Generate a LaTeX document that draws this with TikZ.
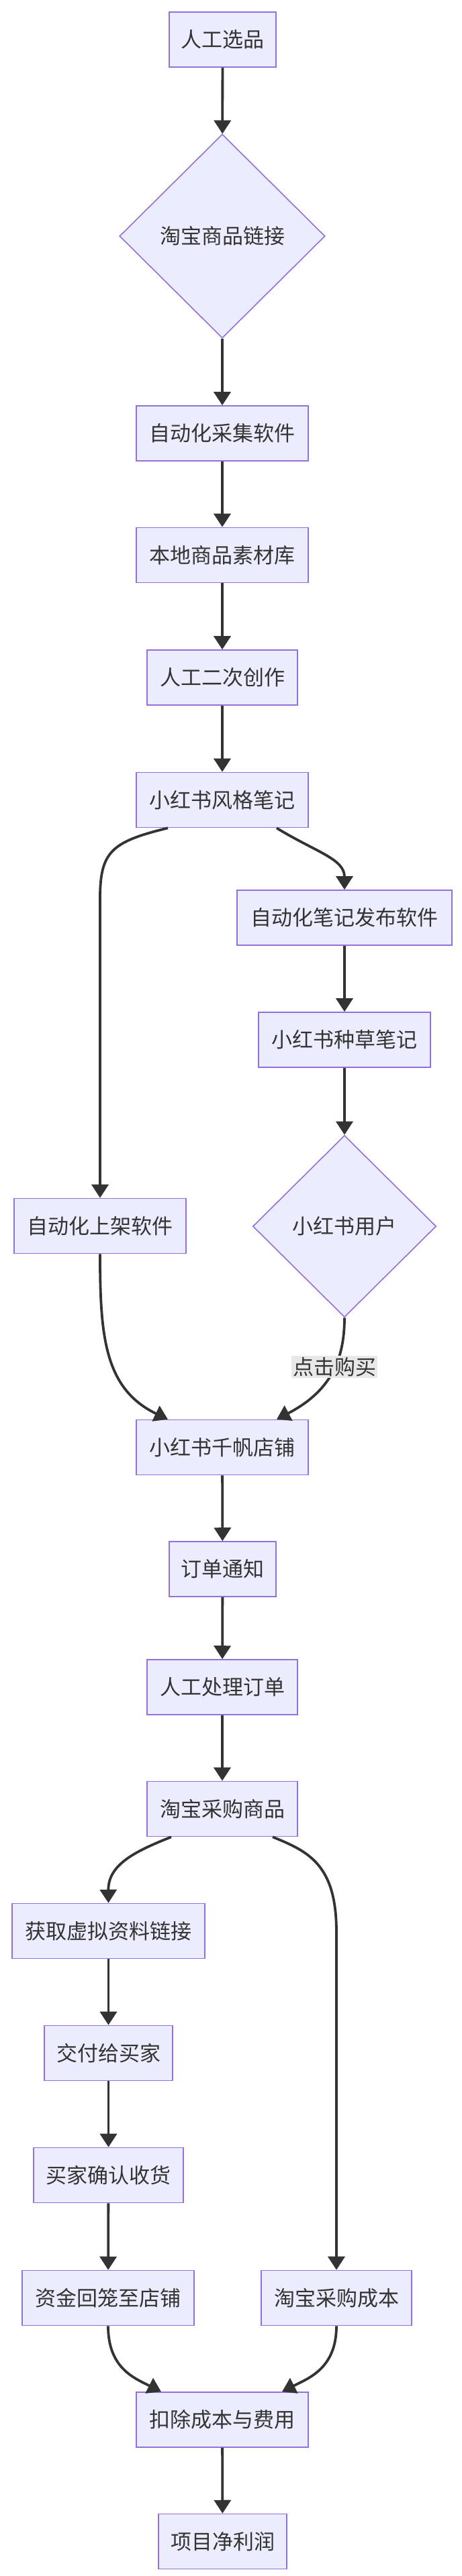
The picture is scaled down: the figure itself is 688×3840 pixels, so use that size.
\documentclass[tikz,border=0pt]{standalone}
\usepackage{fontspec}
\setmainfont{Noto Sans CJK SC}
\usetikzlibrary{shapes.geometric,arrows.meta}
\definecolor{fondnoeud}{HTML}{ECECFF}
\definecolor{bordnoeud}{HTML}{9370DB}
\definecolor{trait}{HTML}{333333}
\definecolor{fondetiquette}{HTML}{E8E8E8}
\begin{document}
\begin{tikzpicture}[x=0.5pt,y=-0.5pt]
		\tikzstyle{fleche}=[line width=1.9pt,draw=trait,-{Triangle[width=12.5pt,length=10pt]}]
		\tikzstyle{noeud}=[draw=bordnoeud,line width=0.8pt,fill=fondnoeud,inner sep=0pt,minimum height=41pt,font=\fontsize{15.5}{17}\selectfont,text=trait]
		\tikzstyle{losange}=[noeud,diamond,minimum height=0pt]
		\tikzstyle{etiquette}=[fill=fondetiquette,inner sep=1pt,font=\fontsize{15.5}{17}\selectfont,text=trait]
		\useasboundingbox (0,0) rectangle (688,3840);
		\node[noeud,minimum width=79.5pt] (xuan) at (331.5,59) {人工选品};
		\node[losange,minimum width=153pt,minimum height=152pt] (lien) at (331,352) {淘宝商品链接};
		\node[noeud,minimum width=128pt] (caiji) at (331,646) {自动化采集软件};
		\node[noeud,minimum width=128pt] (sucai) at (331,827.5) {本地商品素材库};
		\node[noeud,minimum width=112pt] (chuang) at (331,1010) {人工二次创作};
		\node[noeud,minimum width=128pt] (biji) at (331,1192.5) {小红书风格笔记};
		\node[noeud,minimum width=160pt] (fabu) at (513,1368) {自动化笔记发布软件};
		\node[noeud,minimum width=128pt] (zhongcao) at (513,1550) {小红书种草笔记};
		\node[losange,minimum width=136.5pt,minimum height=135.5pt] (yonghu) at (513,1828) {小红书用户};
		\node[noeud,minimum width=128pt] (shangjia) at (149,1827.5) {自动化上架软件};
		\node[noeud,minimum width=128pt] (dianpu) at (331,2157.5) {小红书千帆店铺};
		\node[noeud,minimum width=79.5pt] (tongzhi) at (331.5,2339) {订单通知};
		\node[noeud,minimum width=112pt] (chuli) at (331,2515) {人工处理订单};
		\node[noeud,minimum width=112pt] (caigou) at (331,2696.5) {淘宝采购商品};
		\node[noeud,minimum width=143.5pt] (huoqu) at (161.5,2878.5) {获取虚拟资料链接};
		\node[noeud,minimum width=95.5pt] (jiaofu) at (161.5,3060.5) {交付给买家};
		\node[noeud,minimum width=111.5pt] (queren) at (161.5,3242.5) {买家确认收货};
		\node[noeud,minimum width=128pt] (zijin) at (161,3425.5) {资金回笼至店铺};
		\node[noeud,minimum width=112pt] (chengben) at (501,3425.5) {淘宝采购成本};
		\node[noeud,minimum width=128pt] (kouchu) at (331,3607) {扣除成本与费用};
		\node[noeud,minimum width=95.5pt] (jinglirun) at (331.5,3788.5) {项目净利润};
		\draw[fleche] (xuan)--(lien);
		\draw[fleche] (lien)--(caiji);
		\draw[fleche] (caiji)--(sucai);
		\draw[fleche] (sucai)--(chuang);
		\draw[fleche] (chuang)--(biji);
		\draw[fleche] ([xshift=-40.5pt]biji.south) .. controls (165,1255) and (149,1270) .. (149,1340) -- (shangjia.north);
		\draw[fleche] ([xshift=40.5pt]biji.south) .. controls (470,1270) and (513,1280) .. (fabu.north);
		\draw[fleche] (fabu)--(zhongcao);
		\draw[fleche] (zhongcao)--(yonghu);
		\draw[fleche] (shangjia.south) .. controls (149,1990) and (155,2070) .. ([xshift=-40.5pt]dianpu.north);
		\draw[fleche] (yonghu.south) .. controls (513,2030) and (490,2075) .. ([xshift=40.5pt]dianpu.north)
			node[etiquette,pos=0.42] {点击购买};
		\draw[fleche] (dianpu)--(tongzhi);
		\draw[fleche] (tongzhi)--(chuli);
		\draw[fleche] (chuli)--(caigou);
		\draw[fleche] ([xshift=-38pt]caigou.south) .. controls (200,2760) and (161,2780) .. (huoqu.north);
		\draw[fleche] ([xshift=37.5pt]caigou.south) .. controls (460,2760) and (501,2780) .. (501,2880) -- (chengben.north);
		\draw[fleche] (huoqu)--(jiaofu);
		\draw[fleche] (jiaofu)--(queren);
		\draw[fleche] (queren)--(zijin);
		\draw[fleche] (zijin.south) .. controls (161,3530) and (200,3545) .. ([xshift=-45.5pt]kouchu.north);
		\draw[fleche] (chengben.south) .. controls (501,3530) and (460,3545) .. ([xshift=44.5pt]kouchu.north);
		\draw[fleche] (kouchu)--(jinglirun);
	\end{tikzpicture}
\end{document}
